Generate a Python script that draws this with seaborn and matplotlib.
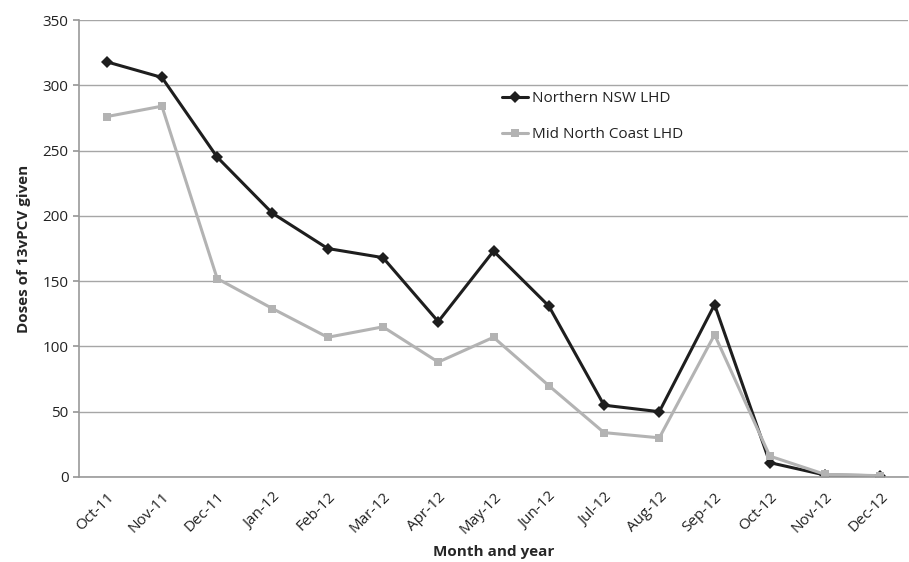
import matplotlib
matplotlib.use("Agg")
import matplotlib.pyplot as plt
import seaborn as sns
import pandas as pd
import numpy as np

months = ["Oct-11", "Nov-11", "Dec-11", "Jan-12", "Feb-12", "Mar-12", "Apr-12", "May-12",
          "Jun-12", "Jul-12", "Aug-12", "Sep-12", "Oct-12", "Nov-12", "Dec-12"]
northern = [318, 306, 245, 202, 175, 168, 119, 173, 131, 55, 50, 132, 11, 1.5, 1]
midnorth = [276, 284, 152, 129, 107, 115, 88, 107, 70, 34, 30, 109, 16, 2, 1]

df = pd.DataFrame({
    "idx": list(range(len(months))) * 2,
    "doses": northern + midnorth,
    "series": ["Northern NSW LHD"] * len(months) + ["Mid North Coast LHD"] * len(months),
})

sns.set_theme(style="white")
plt.rcParams["font.family"] = ["Open Sans", "DejaVu Sans"]

fig = plt.figure(figsize=(9.09, 5.62), dpi=100)
ax = fig.add_axes([79/909, 85/562, 829/909, 457/562])

sns.lineplot(data=df, x="idx", y="doses", hue="series", style="series",
             palette={"Northern NSW LHD": "#1e1e1e", "Mid North Coast LHD": "#b3b3b3"},
             markers={"Northern NSW LHD": "D", "Mid North Coast LHD": "s"},
             dashes=False, linewidth=2.2, markersize=6, markeredgewidth=0, ax=ax)

ax.set_xlim(-0.5, len(months) - 0.5)
ax.set_ylim(0, 350)
ax.set_yticks(np.arange(0, 351, 50))
ax.yaxis.grid(True, color="#a6a6a6", linewidth=1)
ax.set_axisbelow(True)
ax.set_xticks(range(len(months)))
ax.set_xticklabels(months, rotation=45, ha="right", rotation_mode="anchor", fontsize=11, color="#222222")
ax.set_xticks(np.arange(-0.5, len(months), 1), minor=True)
ax.tick_params(axis="x", which="major", length=0, pad=9)
ax.tick_params(axis="x", which="minor", length=5, color="#999999", width=1, direction="out")
ax.tick_params(axis="y", labelsize=11, length=4, color="#999999", colors="#222222", direction="out")
ax.tick_params(axis="y", which="major", left=True)
for s in ["top", "right"]:
    ax.spines[s].set_visible(False)
for s in ["left", "bottom"]:
    ax.spines[s].set_color("#999999")
    ax.spines[s].set_linewidth(1.2)

ax.set_xlabel("Month and year", fontsize=11, fontweight="bold", labelpad=6)
ax.set_ylabel("Doses of 13vPCV given", fontsize=11, fontweight="bold", labelpad=8)

leg = ax.legend(loc="upper left", bbox_to_anchor=(502/909, 1 - 91/562),
                bbox_transform=fig.transFigure, frameon=False, fontsize=11, handlelength=1.7,
                labelspacing=1.4, handletextpad=0.25, borderaxespad=0, borderpad=0)
for t in leg.get_texts():
    t.set_color("#222222")

fig.savefig("out.png", dpi=100)
